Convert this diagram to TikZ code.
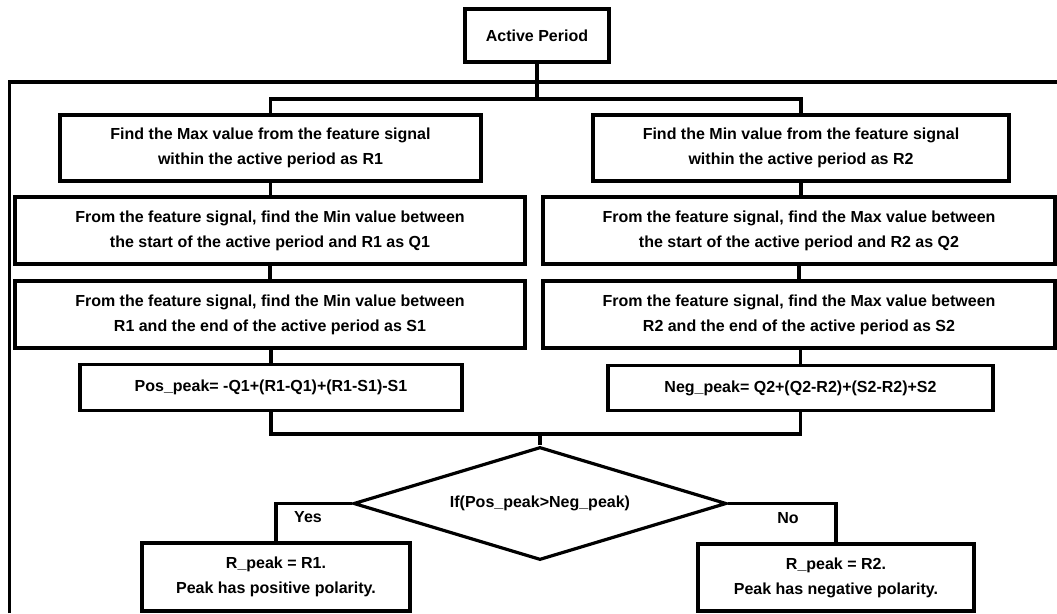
\documentclass[tikz,border=0pt]{standalone}
\usepackage{fontspec}
\setmainfont{Liberation Sans}
\usetikzlibrary{shapes.geometric}
\begin{document}
\begin{tikzpicture}[x=1pt,y=-1pt,
  every node/.style={font=\fontsize{16}{25}\selectfont\bfseries},
  box/.style={draw, line width=3.2pt, inner sep=0pt, align=center},
  conn/.style={line width=3.2pt},
  lbl/.style={inner sep=0pt}]
\useasboundingbox (0,0) rectangle (1057,613);
% nodes
\node[box, minimum width=144, minimum height=53] (ap) at (537,35.5) {Active Period};
\node[box, minimum width=421, minimum height=66] (l1) at (270.5,148) {Find the Max value from the feature signal\\within the active period as R1};
\node[box, minimum width=416, minimum height=66] (r1) at (801,148) {Find the Min value from the feature signal\\within the active period as R2};
\node[box, minimum width=510, minimum height=67] (l2) at (270,230.5) {From the feature signal, find the Min value between\\the start of the active period and R1 as Q1};
\node[box, minimum width=512, minimum height=67] (r2) at (799,230.5) {From the feature signal, find the Max value between\\the start of the active period and R2 as Q2};
\node[box, minimum width=510, minimum height=67] (l3) at (270,314.5) {From the feature signal, find the Min value between\\R1 and the end of the active period as S1};
\node[box, minimum width=512, minimum height=67] (r3) at (799,314.5) {From the feature signal, find the Max value between\\R2 and the end of the active period as S2};
\node[box, minimum width=382, minimum height=46] (pos) at (271,387.5) {Pos\_peak= -Q1+(R1-Q1)+(R1-S1)-S1};
\node[box, minimum width=385, minimum height=45] (neg) at (800.5,388) {Neg\_peak= Q2+(Q2-R2)+(S2-R2)+S2};
\node[box, diamond, aspect=3.3, minimum width=373, minimum height=113] (dia) at (540,503.5) {If(Pos\_peak>Neg\_peak)};
\node[box, minimum width=268, minimum height=68] (res1) at (276,577) {R\_peak = R1.\\Peak has positive polarity.};
\node[box, minimum width=276, minimum height=67] (res2) at (836,577.5) {R\_peak = R2.\\Peak has negative polarity.};
\node[lbl] (yes) at (308,517) {Yes};
\node[lbl] (no) at (788,518) {No};
% coordinates
\coordinate (split) at (537,99);
\coordinate (join) at (540,434);
\coordinate (fa) at (9.5,613);
\coordinate (fb) at (9.5,82);
\coordinate (fc) at (1057,82);
% outer frame line
\draw[conn] (fa) -- (fb) -- (fc);
% connectors
\draw[conn] (ap.south) -- (split);
\draw[conn] (l1.north) |- (split) -| (r1.north);
\draw[conn] (l1.south) -- (l1.south |- l2.north);
\draw[conn] (r1.south) -- (r1.south |- r2.north);
\draw[conn] (l2.south) -- (l2.south |- l3.north);
\draw[conn] (r2.south) -- (r2.south |- r3.north);
\draw[conn] (l3.south -| pos.north) -- (pos.north);
\draw[conn] (r3.south -| neg.north) -- (neg.north);
\draw[conn] (pos.south) |- (join) -| (neg.south);
\draw[conn] (join) -- (dia.north);
\draw[conn] (dia.west) -| (res1.north);
\draw[conn] (dia.east) -| (res2.north);
\end{tikzpicture}
\end{document}
